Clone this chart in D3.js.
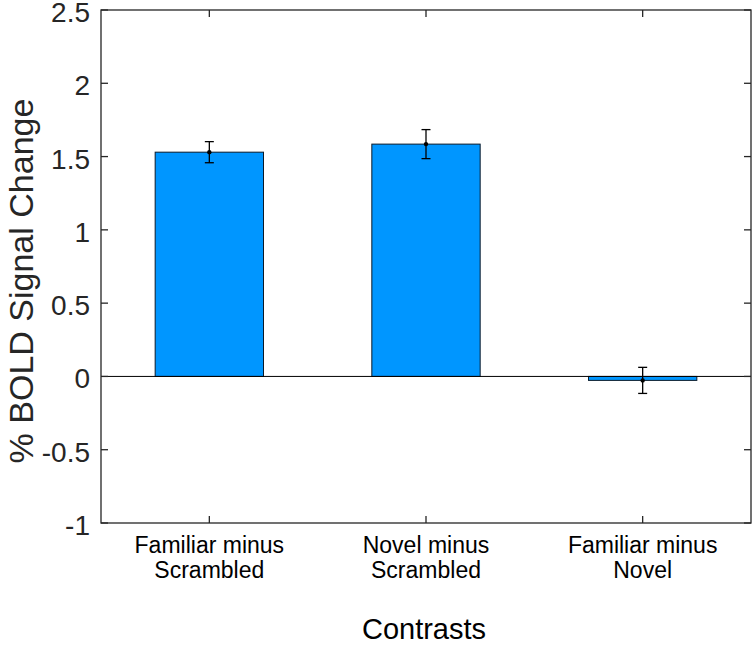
<!DOCTYPE html>
<html><head><meta charset="utf-8">
<script src="https://cdn.jsdelivr.net/npm/d3@7"></script>
<style>body{margin:0;background:#fff}svg{display:block}text{font-family:"Liberation Sans",Arial,sans-serif}</style>
</head><body>
<script>
const categories = [["Familiar minus","Scrambled"],["Novel minus","Scrambled"],["Familiar minus","Novel"]];
const values = [1.53, 1.585, -0.027];
const errors = [0.072, 0.099, 0.089];
const yTicks = [-1, -0.5, 0, 0.5, 1, 1.5, 2, 2.5];

const W = 753, H = 645;
const L = 101, R = 751, T = 10, B = 523;
const svg = d3.select("body").append("svg").attr("width", W).attr("height", H);
const x = d3.scaleLinear().domain([0.5, 3.5]).range([L, R]);
const y = d3.scaleLinear().domain([-1, 2.5]).range([B, T]);
const ink = "#262626";
const bw = 0.5;

// bars
svg.selectAll("rect.bar").data(values).join("rect")
  .attr("x", (d,i) => x(i+1-bw/2))
  .attr("width", (d,i) => x(i+1+bw/2) - x(i+1-bw/2))
  .attr("y", d => y(Math.max(0,d)))
  .attr("height", d => Math.abs(y(d) - y(0)))
  .attr("fill", "#0096FF").attr("stroke", "#0a1a2a").attr("stroke-width", 1);

// baseline
svg.append("line").attr("x1", L).attr("x2", R).attr("y1", y(0)).attr("y2", y(0))
  .attr("stroke", "#000").attr("stroke-width", 1);

// error bars
const eb = svg.selectAll("g.eb").data(values).join("g");
eb.append("line").attr("x1",(d,i)=>x(i+1)).attr("x2",(d,i)=>x(i+1))
  .attr("y1",(d,i)=>y(d+errors[i])).attr("y2",(d,i)=>y(d-errors[i])).attr("stroke","#000").attr("stroke-width",1.3);
[1,-1].forEach(s=>{
  eb.append("line").attr("x1",(d,i)=>x(i+1)-4.5).attr("x2",(d,i)=>x(i+1)+4.5)
    .attr("y1",(d,i)=>y(d+s*errors[i])).attr("y2",(d,i)=>y(d+s*errors[i])).attr("stroke","#000").attr("stroke-width",1.3);
});
eb.append("circle").attr("cx",(d,i)=>x(i+1)).attr("cy",d=>y(d)).attr("r",2.2).attr("fill","#000");

// box
svg.append("rect").attr("x", L).attr("y", T).attr("width", R-L).attr("height", B-T)
  .attr("fill","none").attr("stroke", ink).attr("stroke-width", 1.3);

// y ticks
yTicks.forEach(v=>{
  svg.append("line").attr("x1",L).attr("x2",L+7).attr("y1",y(v)).attr("y2",y(v)).attr("stroke",ink).attr("stroke-width",1.3);
  svg.append("line").attr("x1",R-7).attr("x2",R).attr("y1",y(v)).attr("y2",y(v)).attr("stroke",ink).attr("stroke-width",1.3);
  svg.append("text").attr("x",90).attr("y",y(v)+12).attr("text-anchor","end")
    .attr("font-size",28).attr("fill",ink).text(v);
});
// x ticks
categories.forEach((c,i)=>{
  const cx = x(i+1);
  svg.append("line").attr("x1",cx).attr("x2",cx).attr("y1",B).attr("y2",B-7).attr("stroke",ink).attr("stroke-width",1.3);
  svg.append("line").attr("x1",cx).attr("x2",cx).attr("y1",T).attr("y2",T+7).attr("stroke",ink).attr("stroke-width",1.3);
  const t = svg.append("text").attr("text-anchor","middle").attr("font-size",23).attr("fill","#000");
  c.forEach((line,j)=>t.append("tspan").attr("x",cx).attr("y",553+j*25).text(line));
});

svg.append("text").attr("x", (L+R)/2 - 2).attr("y", 639).attr("text-anchor","middle")
  .attr("font-size",29).attr("fill","#000").text("Contrasts");
svg.append("text").attr("transform","translate(33,281) rotate(-90)").attr("text-anchor","middle")
  .attr("font-size",34).attr("fill",ink).text("% BOLD Signal Change");
</script>
</body></html>
